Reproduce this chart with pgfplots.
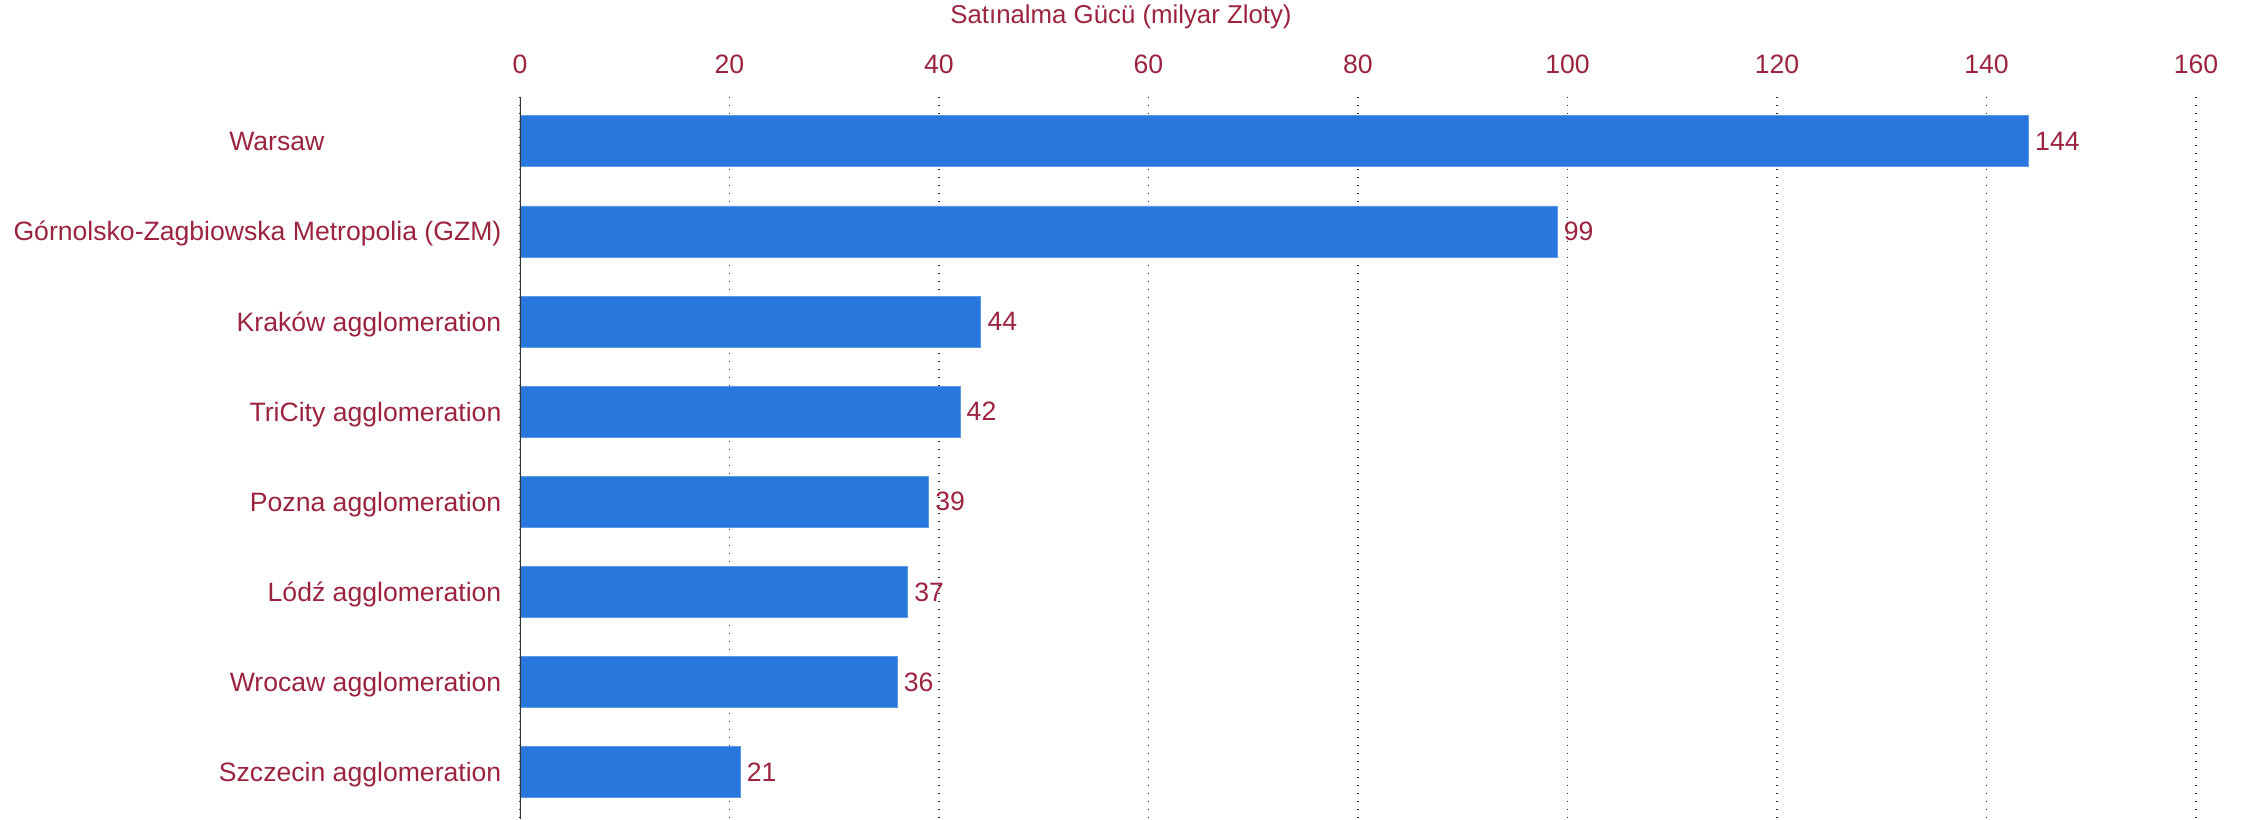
\documentclass[border=0pt]{standalone}
\usepackage{fontspec}
\setmainfont{Liberation Sans}
\usepackage{pgfplots}
\pgfplotsset{compat=1.18}
\definecolor{txt}{RGB}{155,35,64}
\definecolor{barc}{RGB}{40,119,221}
\begin{document}
\fontsize{13.3pt}{15.5pt}\selectfont
\begin{tikzpicture}
\useasboundingbox (-260pt,0pt) rectangle (866.5pt,409.5pt);
\begin{axis}[
  at={(0pt,0pt)}, anchor=south west,
  scale only axis, width=838pt, height=361.2pt,
  xbar, bar width=25.5pt,
  xmin=0, xmax=160,
  ymin=-0.497, ymax=7.52, y dir=reverse,
  /pgf/number format/assume math mode=true,
  axis line style={draw=none},
  tick style={draw=none},
  xtick={0,20,...,160},
  xticklabels={0,20,40,60,80,100,120,140,160},
  xticklabel pos=upper,
  xticklabel style={anchor=south, inner sep=0pt, yshift=11.2pt, text=txt},
  ytick={0,...,7},
  yticklabels={Warsaw\hspace*{88.5pt},Górnolsko-Zagbiowska Metropolia (GZM),Kraków agglomeration,TriCity agglomeration,Pozna agglomeration,Lódź agglomeration,Wrocaw agglomeration,Szczecin agglomeration},
  yticklabel style={anchor=base east, inner sep=0pt, xshift=-4.85pt, yshift=-4.75pt, text=txt},
  xmajorgrids,
  grid style={dash pattern=on 0.8pt off 3.2pt, line width=0.8pt, color=black!85},
  nodes near coords,
  nodes near coords style={anchor=west, inner sep=0pt, xshift=3.2pt, text=txt},
]
\addplot[fill=barc, draw=barc!75!white, line width=0.4pt] coordinates {
  (144,0) (99,1) (44,2) (42,3) (39,4) (37,5) (36,6) (21,7)
};
\draw[line width=1pt, color=black!80] (rel axis cs:0,0) -- (rel axis cs:0,1);
\end{axis}
\node[text=txt, anchor=base, font=\fontsize{12.9pt}{15pt}\selectfont] at (300.5pt,397.85pt) {Satınalma Gücü (milyar Zloty)};
\end{tikzpicture}
\end{document}
